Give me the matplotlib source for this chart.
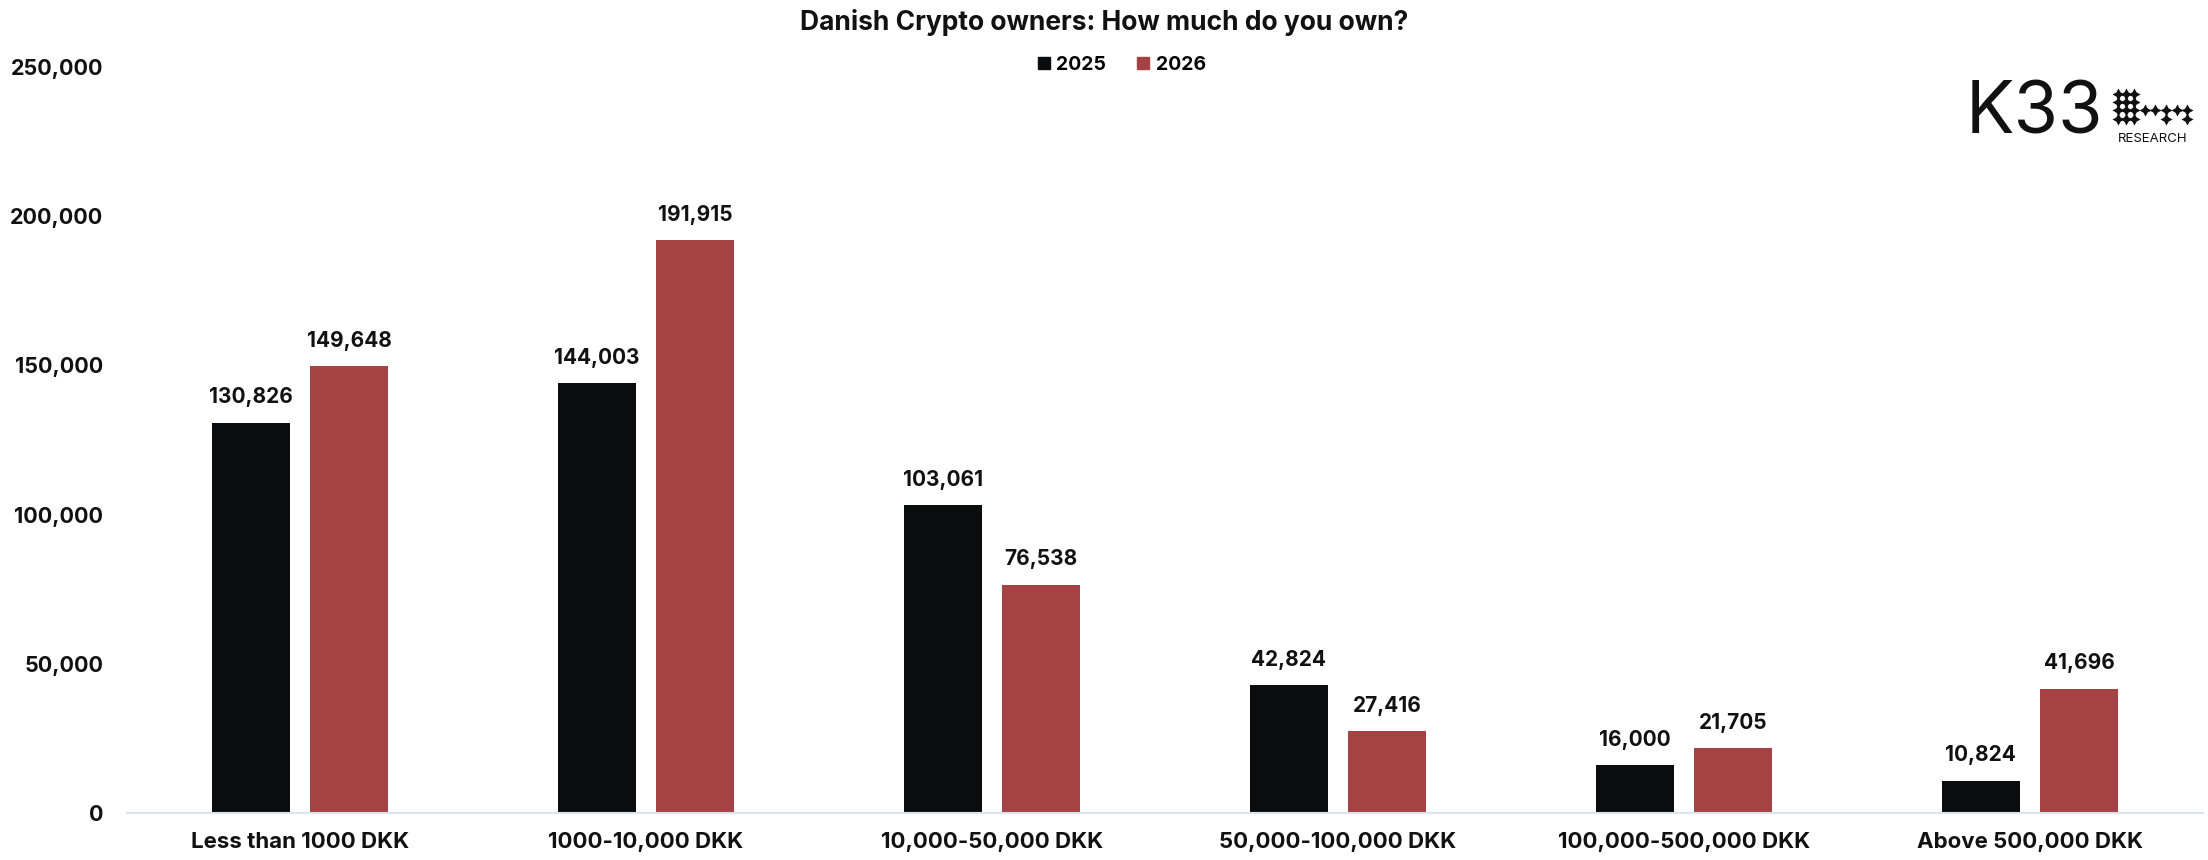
import matplotlib

matplotlib.use("Agg")
import matplotlib.pyplot as plt  # noqa: E402
import numpy as np  # noqa: E402
from matplotlib.patches import Patch  # noqa: E402

plt.rcParams["font.family"] = ["Inter", "DejaVu Sans"]

categories = ["Less than 1000 DKK", "1000-10,000 DKK", "10,000-50,000 DKK",
              "50,000-100,000 DKK", "100,000-500,000 DKK", "Above 500,000 DKK"]
owners_2025 = [130826, 144003, 103061, 42824, 16000, 10824]
owners_2026 = [149648, 191915, 76538, 27416, 21705, 41696]
yticks = [0, 50000, 100000, 150000, 200000, 250000]

BLACK = "#0b0c0e"
RED = "#a54344"

W, H = 2208, 860
fig = plt.figure(figsize=(W / 100, H / 100), dpi=100)
ax = fig.add_axes([127 / W, 47 / H, 2076 / W, 746 / H])

x = np.arange(len(categories))
bw, off = 0.225, 0.142
b1 = ax.bar(x - off, owners_2025, bw, color=BLACK)
b2 = ax.bar(x + off, owners_2026, bw, color=RED)
for bars in (b1, b2):
    ax.bar_label(bars, labels=[f"{v:,.0f}" for v in bars.datavalues], padding=11,
                 fontsize=15, fontweight="bold", color="#111111")

ax.set_xlim(-0.5, len(categories) - 0.5)
ax.set_ylim(0, 250000)
ax.set_yticks(yticks)
ax.set_yticklabels([f"{v:,.0f}" for v in yticks])
ax.set_xticks(x)
ax.set_xticklabels(categories)
ax.tick_params(axis="y", length=0, pad=17, labelsize=15.5, labelcolor="#111111")
ax.tick_params(axis="x", length=0, pad=14, labelsize=16, labelcolor="#111111")
for lab in ax.get_xticklabels() + ax.get_yticklabels():
    lab.set_fontweight("bold")
for s in ("top", "right", "left"):
    ax.spines[s].set_visible(False)
ax.spines["bottom"].set_color("#dde3ea")
ax.spines["bottom"].set_linewidth(1.5)

fig.text(0.5, 1 - 22 / H, "Danish Crypto owners: How much do you own?", ha="center", va="center",
         fontsize=19, fontweight="bold", color="#111111")
handles = [Patch(color=BLACK, label="2025"), Patch(color=RED, label="2026")]
fig.legend(handles=handles, loc="center", bbox_to_anchor=(1122 / W, 1 - 65 / H), ncol=2,
           frameon=False, handlelength=0.6, handleheight=0.6, handletextpad=0.35,
           columnspacing=1.6, prop={"weight": "bold", "size": 14})

# K33 Research logo
fig.text(1966 / W, 1 - 115 / H, "K33", ha="left", va="center", fontsize=52,
         fontweight="normal", color="#111111")
lax = fig.add_axes([2110 / W, 1 - 150 / H, 90 / W, 65 / H])
lax.set_xlim(2110, 2200)
lax.set_ylim(150, 85)
lax.axis("off")
cols_a = [2118, 2126, 2134]
cols_b = [2145, 2155, 2166, 2177, 2187]
stars = [(cx, 94) for cx in cols_a] + [(cx, 102) for cx in cols_a]
stars += [(cx, 110) for cx in cols_a + cols_b]
stars += [(cx, 119) for cx in cols_a] + [(2166, 119), (2187, 119)]
sx, sy = zip(*stars)
lax.scatter(sx, sy, marker=(4, 1, 0), s=75, color="#111111", linewidths=0)
lax.text(2153, 139, "RESEARCH", ha="center", va="center", fontsize=9.5, color="#111111")

fig.savefig("out.png", dpi=100)
